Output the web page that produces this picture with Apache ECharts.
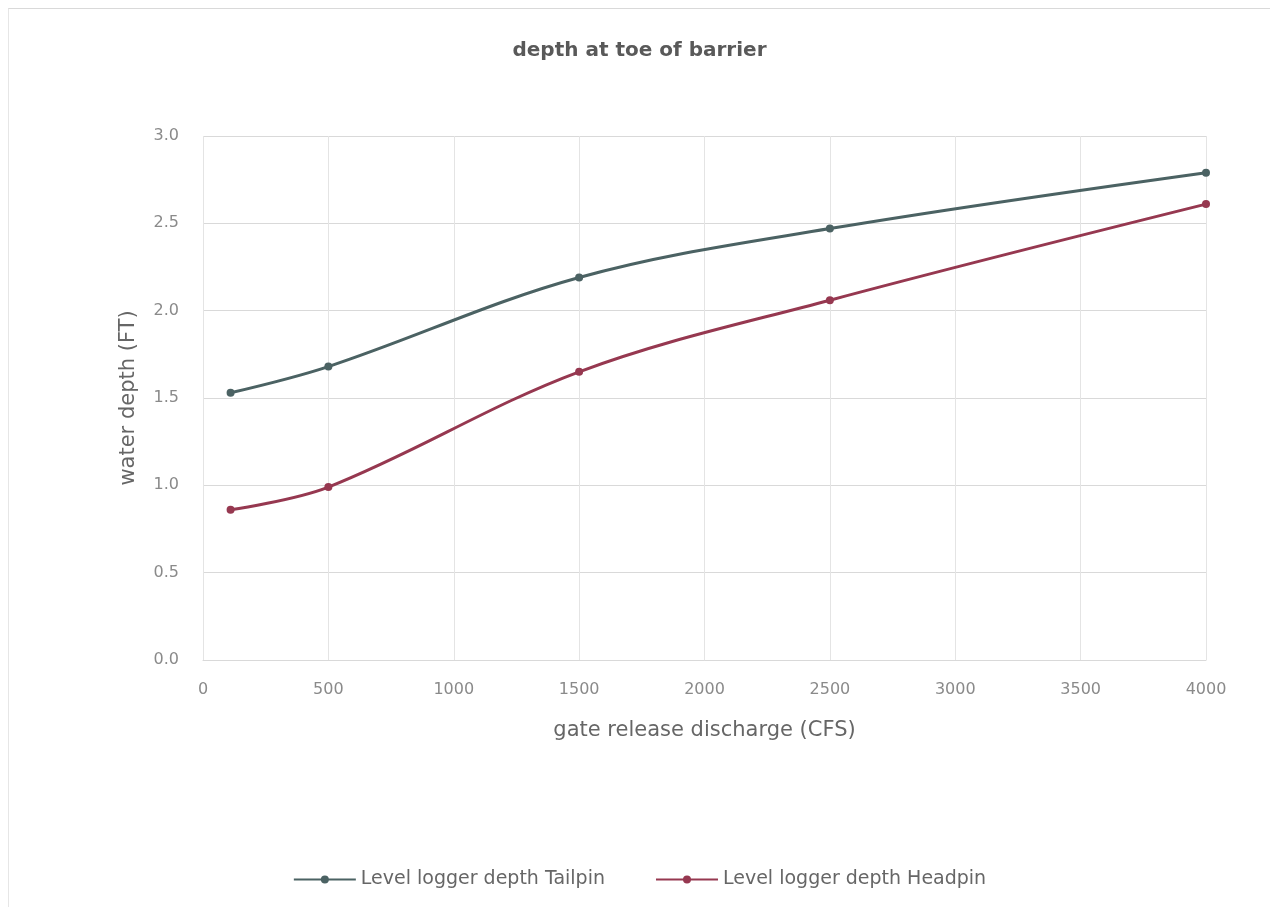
<!DOCTYPE html>
<html><head><meta charset="utf-8">
<script src="https://cdn.jsdelivr.net/npm/echarts@6/dist/echarts.min.js"></script>
<style>html,body{margin:0;padding:0;background:#fff}#c{position:absolute;left:8px;top:8px;width:1262px;height:899px;border-top:1px solid #d9d9d9;border-left:1px solid #e6e6e6;box-sizing:border-box}</style>
</head><body><div id="c"></div>
<script>
const discharge = [110, 500, 1500, 2500, 4000];
const tailpin = [1.53, 1.68, 2.19, 2.47, 2.79];
const headpin = [0.86, 0.99, 1.65, 2.06, 2.61];
const seriesNames = ['Level logger depth Tailpin', 'Level logger depth Headpin'];
const colors = ['#4b6263', '#963850'];
const chart = echarts.init(document.getElementById('c'));
const font = 'DejaVu Sans';
function pts(ys){ return discharge.map((x,i)=>[x, ys[i]]); }
chart.setOption({
  animation:false,
  title:{text:'depth at toe of barrier', left:'center', top:27,
    textStyle:{fontFamily:font, fontSize:20, fontWeight:'bold', color:'#595959'}},
  grid:{left:194, right:64, top:127, bottom:247},
  xAxis:{type:'value', min:0, max:4000, interval:500,
    name:'gate release discharge (CFS)', nameLocation:'middle', nameGap:60,
    nameTextStyle:{fontFamily:font, fontSize:21, color:'#666'},
    axisLine:{show:true, lineStyle:{color:'#d9d9d9'}}, axisTick:{show:false},
    axisLabel:{fontFamily:font, fontSize:16, color:'#8a8a8a', margin:22, formatter:v=>String(v)},
    splitLine:{show:true, lineStyle:{color:'#e4e4e4'}}},
  yAxis:{type:'value', min:0, max:3, interval:0.5,
    name:'water depth (FT)', nameLocation:'middle', nameGap:64,
    nameTextStyle:{fontFamily:font, fontSize:21, color:'#666'},
    axisLine:{show:false}, axisTick:{show:false},
    axisLabel:{fontFamily:font, fontSize:16, color:'#8a8a8a', margin:24, formatter:v=>v.toFixed(1)},
    splitLine:{show:true, lineStyle:{color:'#d9d9d9'}}},
  legend:{bottom:13, left:'center', itemGap:50, itemWidth:62, itemHeight:10,
    textStyle:{fontFamily:font, fontSize:19, color:'#666'},
    data:seriesNames},
  series:[
    {name:seriesNames[0], type:'line', smooth:0.35, data:pts(tailpin), color:colors[0],
     symbol:'circle', symbolSize:8, lineStyle:{width:3}},
    {name:seriesNames[1], type:'line', smooth:0.35, data:pts(headpin), color:colors[1],
     symbol:'circle', symbolSize:8, lineStyle:{width:3}}
  ]
});
</script></body></html>
